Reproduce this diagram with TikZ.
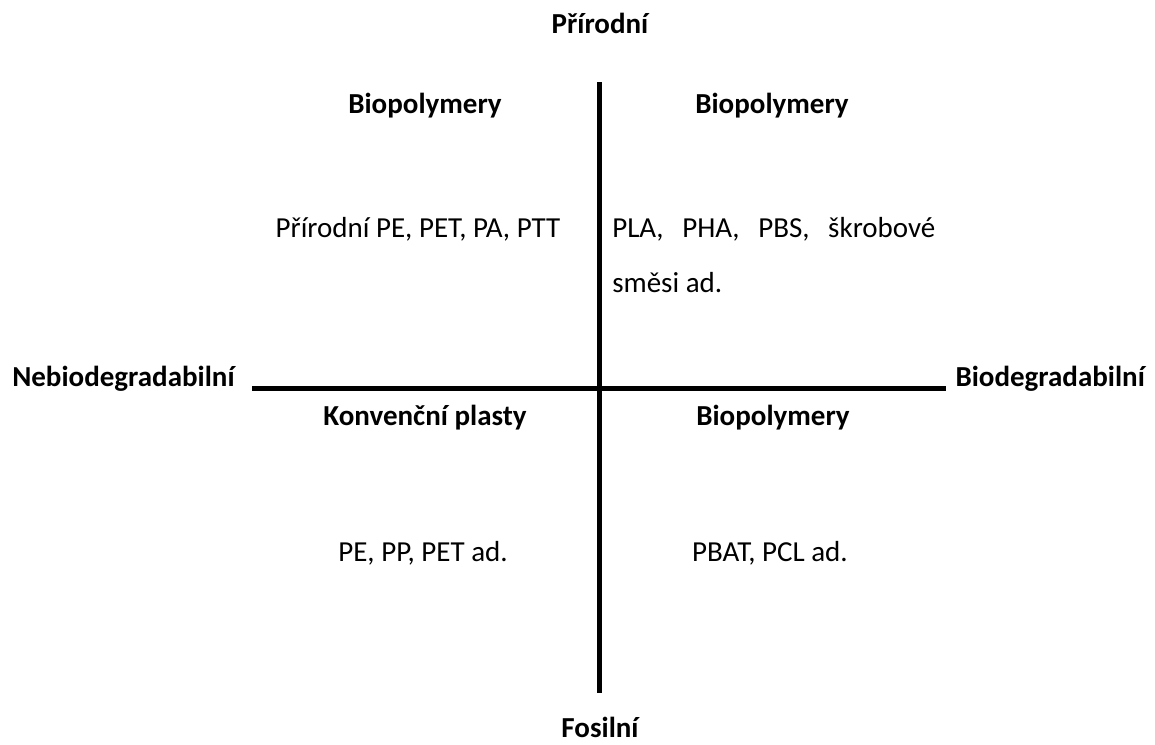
\documentclass[tikz,border=0pt]{standalone}
\usepackage{fontspec}
\setmainfont{Carlito}
\begin{document}
\begin{tikzpicture}[x=0.75pt, y=-0.75pt,
  lbl/.style={anchor=base, inner sep=0pt, font=\fontsize{21.75}{26}\selectfont},
  head/.style={lbl, font=\fontsize{21.75}{26}\selectfont\bfseries},
  axis/.style={line width=3.75pt}]
\useasboundingbox (0,0) rectangle (1155,744);
% osy
\coordinate (top) at (599,82);   \coordinate (bottom) at (599,693);
\coordinate (left) at (252,388); \coordinate (right) at (946,388);
\draw[axis] (top)--(bottom);
\draw[axis] (left)--(right);

\node[head] (prirodni) at (600,33){Přírodní};
\node[head] (fosilni) at (600,737){Fosilní};
\node[head, anchor=base west] (nebio) at (12,386){Nebiodegradabilní};
\node[head, anchor=base east] (bio) at (1145,386){Biodegradabilní};

\node[head] (tl) at (425,113){Biopolymery};   \node[head] (tr) at (772,113){Biopolymery};
\node[head] (bl) at (425,425){Konvenční plasty};   \node[head] (br) at (773,425){Biopolymery};

\node[lbl] (tlx) at (418,237){Přírodní PE, PET, PA, PTT};
\node[lbl, anchor=base west] (trx) at (612,237){\makebox[242.25pt][s]{PLA, PHA, PBS, škrobové}};
\node[lbl, anchor=base west] (trx2) at (612,292){směsi ad.};
\node[lbl] (blx) at (423,561){PE, PP, PET ad.};
\node[lbl] (brx) at (770,561){PBAT, PCL ad.};
\end{tikzpicture}
\end{document}
